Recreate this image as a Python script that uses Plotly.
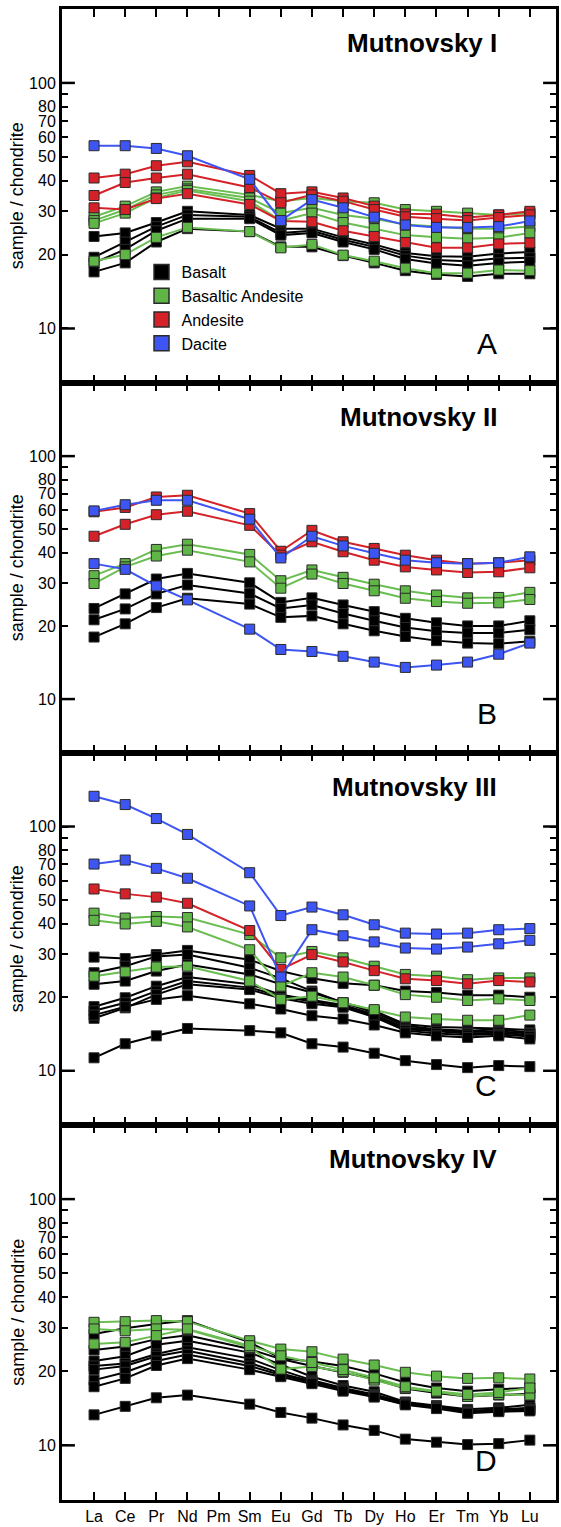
import plotly.graph_objects as go

ELEMENTS = ["La", "Ce", "Pr", "Nd", "Pm", "Sm", "Eu", "Gd", "Tb", "Dy", "Ho", "Er", "Tm", "Yb", "Lu"]
MEASURED = ["La", "Ce", "Pr", "Nd", "Sm", "Eu", "Gd", "Tb", "Dy", "Ho", "Er", "Tm", "Yb", "Lu"]
Y_TICKS = [10, 20, 30, 40, 50, 60, 70, 80, 90, 100]
Y_TICK_TEXT = ["10", "20", "30", "40", "50", "60", "70", "80", "", "100"]
Y_DECADES = [10, 100]
ROCK_TYPES = ["Basalt", "Basaltic Andesite", "Andesite", "Dacite"]
PANEL_TITLES = ["Mutnovsky I", "Mutnovsky II", "Mutnovsky III", "Mutnovsky IV"]
PANEL_LETTERS = ["A", "B", "C", "D"]

# ---- Panel A : Mutnovsky I ----
A_BASALT = [
    [23.7, 24.5, 27.0, 30.0, 29.0, 25.5, 25.5, 23.5, 22.0, 20.3, 19.7, 19.6, 20.2, 20.5],
    [19.5, 22.5, 26.0, 29.0, 28.5, 24.5, 25.0, 23.0, 21.5, 19.8, 19.0, 18.8, 19.3, 19.4],
    [18.5, 21.0, 25.0, 28.0, 28.0, 24.0, 24.5, 22.5, 21.0, 19.2, 18.4, 18.0, 18.5, 18.7],
    [17.0, 18.5, 22.5, 25.5, 24.8, 21.5, 21.5, 19.8, 18.5, 17.2, 16.6, 16.3, 16.7, 16.7],
]
A_BASALTIC_ANDESITE = [
    [28.5, 31.5, 36.0, 38.0, 35.0, 33.0, 34.0, 33.0, 32.5, 30.5, 30.0, 29.5, 29.0, 29.5],
    [27.5, 30.5, 35.0, 37.0, 34.0, 29.5, 31.0, 29.0, 28.0, 26.5, 26.0, 25.5, 25.5, 26.0],
    [26.8, 29.5, 34.0, 36.5, 33.0, 27.5, 29.5, 27.0, 25.5, 24.0, 23.5, 23.2, 23.4, 24.5],
    [18.8, 20.0, 23.5, 25.8, 24.8, 21.3, 22.0, 19.9, 18.8, 17.6, 16.8, 16.8, 17.3, 17.2],
]
A_ANDESITE = [
    [41.0, 42.5, 46.0, 47.7, 42.0, 35.4, 36.0, 34.0, 31.5, 29.3, 29.2, 28.3, 29.0, 30.0],
    [34.8, 39.3, 41.0, 42.5, 37.5, 32.5, 35.0, 33.0, 30.5, 28.5, 28.0, 27.5, 28.3, 29.0],
    [31.0, 30.5, 33.8, 35.4, 32.0, 27.4, 27.2, 25.0, 23.7, 22.4, 21.3, 21.3, 22.1, 22.3],
]
A_DACITE = [
    [55.5, 55.5, 54.1, 50.5, 40.5, 27.5, 33.5, 31.0, 28.4, 26.4, 25.8, 25.8, 26.0, 27.4],
]

# ---- Panel B : Mutnovsky II ----
B_BASALT = [
    [23.6, 27.1, 31.2, 32.9, 30.1, 25.0, 26.1, 24.4, 22.9, 21.5, 20.6, 20.0, 20.0, 21.0],
    [21.2, 23.5, 27.1, 29.5, 27.2, 23.6, 24.4, 22.5, 21.0, 19.7, 19.0, 18.7, 18.7, 19.3],
    [18.0, 20.4, 23.8, 26.0, 24.6, 21.7, 22.0, 20.4, 19.1, 18.1, 17.4, 17.0, 16.9, 17.3],
]
B_BASALTIC_ANDESITE = [
    [32.2, 36.1, 41.3, 43.4, 39.4, 30.7, 34.0, 31.7, 29.7, 27.9, 26.8, 26.1, 26.2, 27.5],
    [29.9, 35.0, 38.8, 41.0, 36.7, 28.6, 32.7, 29.9, 27.9, 26.0, 25.2, 24.8, 24.9, 25.7],
]
B_ANDESITE = [
    [59.0, 61.5, 67.9, 69.0, 58.0, 40.6, 49.5, 44.4, 41.7, 39.1, 37.3, 36.1, 36.4, 37.3],
    [46.8, 52.4, 57.4, 59.3, 51.9, 39.1, 44.4, 40.4, 37.3, 35.0, 34.0, 33.2, 33.4, 34.7],
]
B_DACITE = [
    [59.5, 63.1, 65.8, 65.8, 55.0, 38.1, 46.8, 42.7, 39.8, 37.3, 36.4, 36.1, 36.4, 38.5],
    [36.1, 34.2, 29.2, 25.6, 19.4, 16.0, 15.7, 15.0, 14.2, 13.5, 13.8, 14.2, 15.3, 17.0],
]

# ---- Panel C : Mutnovsky III ----
C_BASALT = [
    [29.2, 28.8, 29.9, 31.1, 28.5, 25.6, 23.9, 22.8, 22.4, 21.2, 20.9, 20.4, 20.4, 20.0],
    [25.2, 26.8, 29.4, 29.9, 26.4, 23.9, 21.2, 19.0, 17.6, 15.5, 15.1, 15.0, 14.9, 14.7],
    [22.6, 23.3, 25.6, 27.2, 24.8, 22.6, 20.9, 19.0, 17.3, 15.3, 14.8, 14.6, 14.8, 14.3],
    [18.3, 19.9, 22.2, 24.2, 22.6, 20.5, 19.5, 18.6, 17.0, 15.0, 14.7, 14.4, 14.5, 14.2],
    [17.6, 19.0, 21.2, 23.3, 21.9, 20.2, 19.2, 18.4, 16.8, 14.8, 14.5, 14.2, 14.3, 14.0],
    [16.4, 18.1, 20.5, 22.6, 21.5, 19.8, 18.8, 18.2, 16.6, 14.6, 14.2, 14.0, 14.1, 13.8],
    [16.9, 18.3, 19.6, 20.3, 18.8, 17.9, 16.8, 16.3, 15.4, 14.3, 13.9, 13.7, 13.9, 13.5],
    [11.3, 12.9, 13.9, 14.9, 14.6, 14.3, 12.9, 12.5, 11.8, 11.0, 10.6, 10.3, 10.5, 10.4],
]
C_BASALTIC_ANDESITE = [
    [44.2, 42.2, 42.8, 42.4, 36.1, 29.0, 30.8, 29.0, 26.8, 24.8, 24.4, 23.6, 24.0, 24.0],
    [41.3, 39.9, 40.9, 38.8, 31.3, 22.2, 25.2, 24.2, 22.4, 20.5, 20.0, 19.4, 19.7, 19.4],
    [24.4, 25.4, 26.6, 26.8, 23.3, 19.6, 20.2, 19.0, 17.8, 16.6, 16.3, 16.1, 16.1, 16.9],
]
C_ANDESITE = [
    [55.5, 53.0, 51.4, 48.5, 37.5, 26.0, 29.9, 27.9, 25.7, 23.8, 23.4, 22.7, 23.4, 23.1],
]
C_DACITE = [
    [133.0, 123.0, 107.8, 92.8, 64.7, 43.2, 46.8, 43.5, 39.6, 36.6, 36.3, 36.6, 37.8, 38.2],
    [70.2, 72.9, 67.4, 61.4, 47.3, 24.2, 37.8, 35.7, 33.7, 31.8, 31.5, 32.1, 33.1, 34.2],
]

# ---- Panel D : Mutnovsky IV ----
D_BASALT = [
    [28.3, 29.9, 31.1, 32.1, 26.2, 22.6, 21.9, 21.0, 19.6, 18.0, 17.1, 16.6, 16.9, 17.1],
    [24.4, 25.2, 27.0, 28.0, 24.6, 22.4, 21.0, 19.8, 18.6, 17.0, 16.3, 15.8, 16.0, 16.2],
    [22.0, 23.0, 25.6, 26.6, 23.8, 21.2, 19.0, 17.5, 16.5, 15.0, 14.5, 14.0, 14.2, 14.6],
    [21.0, 21.5, 23.5, 25.0, 22.5, 20.2, 18.4, 17.1, 16.1, 14.9, 14.4, 13.8, 14.0, 14.2],
    [20.3, 21.0, 23.0, 24.2, 21.6, 19.6, 18.2, 16.9, 15.9, 14.8, 14.3, 13.7, 13.9, 14.0],
    [18.4, 19.8, 22.0, 23.4, 21.0, 19.3, 18.0, 16.8, 15.8, 14.7, 14.2, 13.6, 13.8, 13.9],
    [17.3, 18.7, 21.1, 22.5, 20.3, 19.0, 17.8, 16.6, 15.7, 14.6, 14.1, 13.5, 13.7, 13.8],
    [13.3, 14.4, 15.6, 16.0, 14.7, 13.6, 12.9, 12.1, 11.5, 10.6, 10.3, 10.07, 10.16, 10.5],
]
D_BASALTIC_ANDESITE = [
    [31.6, 31.8, 32.1, 31.8, 26.6, 24.6, 24.0, 22.4, 21.2, 19.8, 19.1, 18.7, 18.8, 18.6],
    [29.7, 29.2, 29.7, 29.5, 25.0, 20.4, 20.9, 19.9, 18.4, 17.1, 16.5, 15.8, 16.1, 16.0],
    [25.8, 26.2, 27.9, 29.7, 25.4, 23.1, 21.7, 20.3, 18.8, 17.3, 16.6, 16.1, 16.4, 17.1],
]
D_ANDESITE = []
D_DACITE = []

PANELS = [
    [A_BASALT, A_BASALTIC_ANDESITE, A_ANDESITE, A_DACITE],
    [B_BASALT, B_BASALTIC_ANDESITE, B_ANDESITE, B_DACITE],
    [C_BASALT, C_BASALTIC_ANDESITE, C_ANDESITE, C_DACITE],
    [D_BASALT, D_BASALTIC_ANDESITE, D_ANDESITE, D_DACITE],
]

MARKER_COLORS = ["#000000", "#5fb546", "#d42228", "#3d55f2"]
LINE_COLORS = ["#000000", "#6abd50", "#d42228", "#3d55f2"]
OUTLINE = "#2a2a2a"

W, H = 561, 1527
ML, MR, MT, MB = 62, 2, 9, 27
EDGES = [9, 383, 753, 1125, 1500]
PLOT_H = EDGES[-1] - EDGES[0]
PLOT_W = W - ML - MR
LONG_TICK = 13 / PLOT_W

fig = go.Figure()

for p, groups in enumerate(PANELS):
    xa = "x" if p == 0 else f"x{p + 1}"
    ya = "y" if p == 0 else f"y{p + 1}"
    for g, series_list in enumerate(groups):
        for vals in series_list:
            fig.add_trace(go.Scatter(
                x=MEASURED, y=vals, xaxis=xa, yaxis=ya, mode="lines+markers",
                line=dict(color=LINE_COLORS[g], width=2),
                marker=dict(symbol="square", size=10, color=MARKER_COLORS[g],
                            line=dict(color=OUTLINE, width=1)),
                showlegend=False, hoverinfo="skip",
            ))

# legend entries
for g, name in enumerate(ROCK_TYPES):
    fig.add_trace(go.Scatter(
        x=[None], y=[None], xaxis="x", yaxis="y", mode="markers", name=name,
        marker=dict(symbol="square", size=15, color=MARKER_COLORS[g],
                    line=dict(color=OUTLINE, width=1.5)),
    ))

layout = dict(
    width=W, height=H,
    margin=dict(l=ML, r=MR, t=MT, b=MB, pad=0),
    paper_bgcolor="white", plot_bgcolor="white",
    font=dict(family="Liberation Sans, Arial, Helvetica, sans-serif", color="black", size=15),
    showlegend=True,
    legend=dict(
        x=(142 - ML) / PLOT_W, y=1 - (255 - MT) / PLOT_H,
        xanchor="left", yanchor="top",
        font=dict(size=16), bgcolor="rgba(0,0,0,0)",
        tracegroupgap=0, itemsizing="trace",
    ),
)

annotations = []
shapes = []
for p in range(4):
    top, bot = EDGES[p], EDGES[p + 1]
    d0 = (EDGES[-1] - bot) / PLOT_H
    d1 = (EDGES[-1] - top) / PLOT_H
    sfx = "" if p == 0 else str(p + 1)
    layout[f"xaxis{sfx}"] = dict(
        type="category", categoryorder="array", categoryarray=ELEMENTS,
        tickmode="array", tickvals=ELEMENTS, ticktext=ELEMENTS,
        range=[-1.03, 14.84], anchor=f"y{sfx}",
        showline=True, linewidth=3, linecolor="black", mirror="allticks",
        ticks="inside", ticklen=8, tickwidth=2, tickcolor="black",
        showgrid=False, zeroline=False, showticklabels=(p == 3),
        tickfont=dict(size=16),
    )
    layout[f"yaxis{sfx}"] = dict(
        type="log", range=[0.778, 2.301], domain=[d0, d1], anchor=f"x{sfx}",
        tickmode="array", tickvals=Y_TICKS, ticktext=Y_TICK_TEXT,
        showline=True, linewidth=3, linecolor="black", mirror="allticks",
        ticks="inside", ticklen=6, tickwidth=2, tickcolor="black",
        showgrid=False, zeroline=False, tickfont=dict(size=16),
    )
    xd = "x domain" if p == 0 else f"x{p + 1} domain"
    yd = "y domain" if p == 0 else f"y{p + 1} domain"
    yr = "y" if p == 0 else f"y{p + 1}"
    for v in Y_DECADES:
        for (a, b) in [(0, LONG_TICK), (1 - LONG_TICK, 1)]:
            shapes.append(dict(type="line", xref=xd, yref=yr, x0=a, x1=b, y0=v, y1=v,
                               line=dict(color="black", width=2.5)))
    ph = bot - top
    annotations.append(dict(
        text=f"<b>{PANEL_TITLES[p]}</b>", xref=xd, yref=yd,
        x=(502 - ML) / PLOT_W, y=1 - 34 / ph, xanchor="right", yanchor="middle",
        showarrow=False, font=dict(size=26, color="black"),
    ))
    annotations.append(dict(
        text=PANEL_LETTERS[p], xref=xd, yref=yd,
        x=(502 - ML) / PLOT_W, y=40 / ph, xanchor="right", yanchor="middle",
        showarrow=False, font=dict(size=30, color="black"),
    ))
    annotations.append(dict(
        text="sample / chondrite", xref="paper", yref=yd,
        x=(17 - ML) / PLOT_W, y=0.5, xanchor="center", yanchor="middle",
        textangle=-90, showarrow=False, font=dict(size=18, color="black"),
    ))

layout["annotations"] = annotations
layout["shapes"] = shapes
fig.update_layout(**layout)
fig.write_html("out.html")
